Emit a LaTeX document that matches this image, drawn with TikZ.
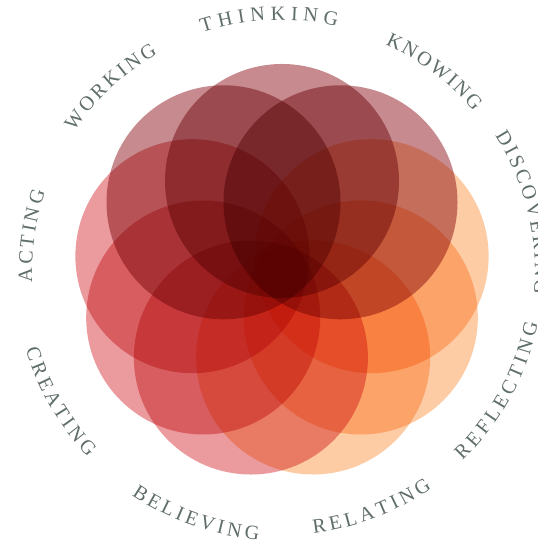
\documentclass[tikz,border=0pt]{standalone}
\usepackage{fontspec}
\setmainfont{Liberation Serif}
\usetikzlibrary{decorations.text}
\definecolor{maroonc}{RGB}{199,138,142}
\definecolor{pinkc}{RGB}{235,154,157}
\definecolor{peachc}{RGB}{253,204,164}
\definecolor{inkc}{RGB}{96,110,106}
\newcommand\wordfont{\fontsize{11.5}{14}\selectfont}

\begin{document}
\begin{tikzpicture}[x=0.02cm, y=0.02cm]
  \def\Rc{91}   % distance of petal centres
  \def\Rp{117}  % petal radius

  \useasboundingbox (0,0) rectangle (537,546);
  \clip (0,0) rectangle (537,546);

  \begin{scope}[shift={(282,274)}]
    % nine overlapping petals, multiplied
    \foreach \a/\c in {90/maroonc, 50/maroonc, 10/peachc, -30/peachc, -70/peachc,
                       -110/pinkc, -150/pinkc, 170/pinkc, 130/maroonc}{
      \fill[\c, blend mode=multiply] (\a:\Rc) circle (\Rp);
    }

    % upper words, running clockwise
    \foreach \s/\e/\rr/\w in {145.9/119.7/251/WORKING, 108.4/77.4/252/THINKING,
                             65.6/39.9/250/KNOWING, 32.6/-5.1/253/DISCOVERING,
                             182.4/161.3/250/ACTING}{
      \path[decorate, decoration={text along path,
            text/.expanded={|\noexpand\wordfont|\w},
            text color=inkc, text align={fit to path}}]
        (\s:\rr) arc[start angle=\s, end angle=\e, radius=\rr];
    }

    % lower words, running anticlockwise
    \foreach \s/\e/\rr/\w in {-46.3/-11.4/261/REFLECTING, -83.1/-55.3/263/RELATING,
                             -124/-95/269/BELIEVING, -163.1/-136.4/268/CREATING}{
      \path[decorate, decoration={text along path,
            text/.expanded={|\noexpand\wordfont|\w},
            text color=inkc, text align={fit to path}}]
        (\s:\rr) arc[start angle=\s, end angle=\e, radius=\rr];
    }
  \end{scope}
\end{tikzpicture}
\end{document}
